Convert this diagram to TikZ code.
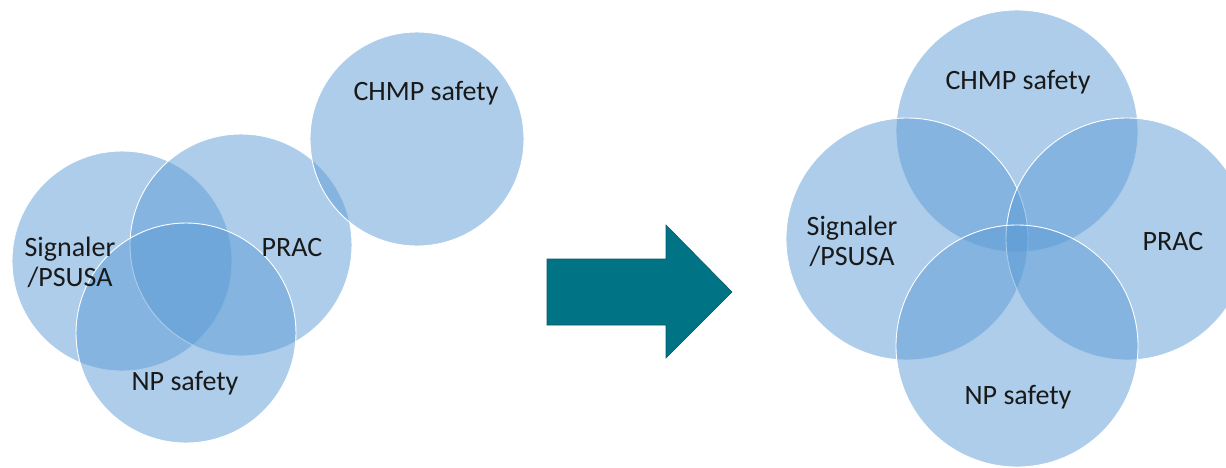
\documentclass[tikz,border=0pt]{standalone}
\usepackage{fontspec}
\setmainfont{Carlito}
\definecolor{vennblue}{RGB}{91,155,213}
\definecolor{arrowteal}{RGB}{0,115,133}
\definecolor{arrowedge}{RGB}{10,90,105}
\definecolor{txt}{RGB}{25,25,25}
\tikzset{
  venn/.style={circle, draw=white, line width=0.9pt, fill=vennblue, fill opacity=0.5, inner sep=0pt},
  lbl/.style={font=\fontsize{28}{30}\selectfont, text=txt, align=center, inner sep=0pt},
}
\begin{document}
\begin{tikzpicture}[x=1pt,y=-1pt]
\useasboundingbox (0,0) rectangle (1226,467);
% left group
\node[venn, minimum size=220pt] (lsig) at (122,261) {};
\node[venn, minimum size=222pt] (lprac) at (241,245) {};
\node[venn, minimum size=220pt] (lnp) at (186,333) {};
\node[venn, minimum size=214pt] (lchmp) at (417,139) {};
\node[lbl] (tlsig) at (70,262) {Signaler\\/PSUSA};
\node[lbl] (tlprac) at (292,248) {PRAC};
\node[lbl] (tlnp) at (185,383) {NP safety};
\node[lbl] (tlchmp) at (426,93) {CHMP safety};
% arrow
\coordinate (a1) at (547,259);
\coordinate (a2) at (666,259);
\coordinate (a3) at (666,225);
\coordinate (a4) at (732,292);
\coordinate (a5) at (666,358);
\coordinate (a6) at (666,325);
\coordinate (a7) at (547,325);
\fill[arrowteal, draw=arrowedge, line width=0.6pt, line join=miter]
  (a1) -- (a2) -- (a3) -- (a4) -- (a5) -- (a6) -- (a7) -- cycle;
% right group
\node[venn, minimum size=242pt] (rchmp) at (1017,131) {};
\node[venn, minimum size=242pt] (rsig) at (907,239) {};
\node[venn, minimum size=242pt] (rprac) at (1127,239) {};
\node[venn, minimum size=242pt] (rnp) at (1017,346) {};
\node[lbl] (trchmp) at (1018,82) {CHMP safety};
\node[lbl] (trsig) at (852,241) {Signaler\\/PSUSA};
\node[lbl] (trprac) at (1173,242) {PRAC};
\node[lbl] (trnp) at (1018,397) {NP safety};
\end{tikzpicture}
\end{document}
